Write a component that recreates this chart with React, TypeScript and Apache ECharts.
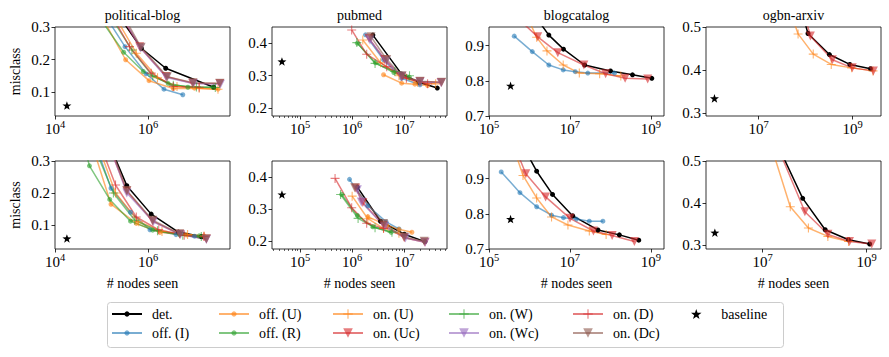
import React, { useEffect, useRef } from 'react';
import * as echarts from 'echarts';

const FONT = 'Liberation Serif';

// ---------- labels ----------
const panelTitles = ['political-blog', 'pubmed', 'blogcatalog', 'ogbn-arxiv'];
const methodNames = ['det.', 'off. (I)', 'off. (U)', 'off. (R)', 'on. (U)', 'on. (Uc)', 'on. (W)', 'on. (Wc)', 'on. (D)', 'on. (Dc)'];
const baselineName = 'baseline';
const yAxisTitle = 'misclass';
const xAxisTitle = '# nodes seen';

// ---------- tick values ----------
const pbXTicks = [1e4, 1e6];
const pmXTicks = [1e5, 1e6, 1e7];
const bcXTicks = [1e5, 1e7, 1e9];
const ogXTicks = [1e7, 1e9];
const pmXMinorTicks = [
  3e4, 4e4, 5e4, 6e4, 7e4, 8e4, 9e4,
  2e5, 3e5, 4e5, 5e5, 6e5, 7e5, 8e5, 9e5,
  2e6, 3e6, 4e6, 5e6, 6e6, 7e6, 8e6, 9e6,
  2e7, 3e7, 4e7, 5e7, 6e7,
];
const pbYTicks = [0.1, 0.2, 0.3];
const pmYTicks = [0.2, 0.3, 0.4];
const bcYTicks = [0.7, 0.8, 0.9];
const ogYTicks = [0.3, 0.4, 0.5];

// ---------- axis limits (panels: top row pb, pm, bc, og; bottom row pb, pm, bc, og) ----------
const xMins = [9.98e3, 2.9e4, 9.98e4, 7.6e5, 9.98e3, 2.9e4, 9.98e4, 8.1e5];
const xMaxs = [5.8e7, 6.6e7, 2.1e9, 4.0e9, 5.8e7, 6.6e7, 2.1e9, 1.9e9];
const yMins = [0.028, 0.176, 0.6999, 0.293, 0.025, 0.176, 0.6999, 0.29];
const yMaxs = [0.3001, 0.45, 0.953, 0.5001, 0.3001, 0.449, 0.95, 0.5001];

// ---------- data: political-blog, top row ----------
const pbTopDet = [[2.2e5, 0.34], [7.2e5, 0.235], [2.4e6, 0.174], [2.6e7, 0.116]];
const pbTopOffI = [[1.26e5, 0.33], [3.2e5, 0.24], [9.1e5, 0.157], [2.2e6, 0.11], [5.6e6, 0.093]];
const pbTopOffU = [[1.12e5, 0.32], [3.3e5, 0.2], [1.05e6, 0.136], [3.5e6, 0.112], [1.0e7, 0.113], [3.2e7, 0.11]];
const pbTopOffR = [[8.9e4, 0.33], [3.0e5, 0.223], [7.9e5, 0.164], [2.7e6, 0.128], [7.2e6, 0.116], [2.5e7, 0.116]];
const pbTopOnU = [[2.0e5, 0.33], [5.6e5, 0.22], [1.6e6, 0.145], [4.2e6, 0.118], [1.26e7, 0.113], [3.2e7, 0.11]];
const pbTopOnUc = [[2.5e5, 0.34], [6.6e5, 0.24], [2.45e6, 0.149], [9.1e6, 0.128], [3.5e7, 0.127]];
const pbTopOnW = [[1.6e5, 0.33], [4.5e5, 0.23], [1.26e6, 0.15], [3.5e6, 0.122], [1.1e7, 0.117], [2.8e7, 0.115]];
const pbTopOnWc = [[2.6e5, 0.34], [6.9e5, 0.236], [2.5e6, 0.146], [9.5e6, 0.127], [3.6e7, 0.125]];
const pbTopOnD = [[1.6e5, 0.34], [4.0e5, 0.24], [1.17e6, 0.159], [3.5e6, 0.118], [1.26e7, 0.116]];
const pbTopOnDc = [[2.7e5, 0.345], [7.1e5, 0.238], [2.6e6, 0.148], [9.3e6, 0.13], [3.5e7, 0.128]];
const pbTopBase = [[1.8e4, 0.06]];

// ---------- data: pubmed, top row ----------
const pmTopDet = [[2.5e6, 0.425], [8.9e6, 0.305], [1.9e7, 0.28], [4.3e7, 0.262]];
const pmTopOffI = [[1.8e6, 0.426], [4.0e6, 0.349], [8.9e6, 0.292], [2.0e7, 0.272]];
const pmTopOffU = [[4.0e6, 0.303], [8.9e6, 0.277], [1.6e7, 0.274], [2.8e7, 0.27]];
const pmTopOffR = [[1.26e6, 0.4], [2.8e6, 0.34], [6.3e6, 0.31], [1.26e7, 0.295]];
const pmTopOnU = [[1.6e6, 0.41], [3.5e6, 0.34], [7.9e6, 0.3], [1.8e7, 0.28], [4.0e7, 0.275]];
const pmTopOnUc = [[2.1e6, 0.415], [4.2e6, 0.35], [8.9e6, 0.297], [2.0e7, 0.282], [5.1e7, 0.279]];
const pmTopOnW = [[1.23e6, 0.402], [2.75e6, 0.338], [6.6e6, 0.313], [1.26e7, 0.3]];
const pmTopOnWc = [[2.2e6, 0.41], [4.5e6, 0.345], [8.9e6, 0.298], [2.0e7, 0.281], [5.1e7, 0.278]];
const pmTopOnD = [[9.8e5, 0.441], [1.9e6, 0.366], [4.6e6, 0.328], [1.1e7, 0.292], [2.8e7, 0.275]];
const pmTopOnDc = [[2.3e6, 0.42], [4.6e6, 0.35], [9.1e6, 0.3], [2.0e7, 0.283], [5.2e7, 0.28]];
const pmTopBase = [[4.5e4, 0.344]];

// ---------- data: blogcatalog, top row ----------
const bcTopDet = [[1.26e6, 0.99], [3.0e6, 0.93], [6.9e6, 0.89], [2.3e7, 0.845], [1.0e8, 0.828], [3.5e8, 0.817], [1.05e9, 0.807]];
const bcTopOffI = [[4.2e5, 0.927], [1.17e6, 0.883], [3.0e6, 0.845], [6.8e6, 0.831], [1.35e7, 0.826], [2.75e7, 0.822], [1.26e8, 0.822]];
const bcTopOnU = [[8.9e5, 0.98], [1.5e6, 0.924], [2.7e6, 0.885], [6.8e6, 0.845], [1.7e7, 0.822], [5.4e7, 0.82], [1.8e8, 0.814]];
const bcTopOnUc = [[7.5e5, 0.96], [1.6e6, 0.925], [5.0e6, 0.88], [2.2e7, 0.845], [7.6e7, 0.82], [2.3e8, 0.807], [8.3e8, 0.805]];
const bcTopBase = [[3.4e5, 0.786]];

// ---------- data: ogbn-arxiv, top row ----------
const ogTopDet = [[5.0e7, 0.62], [1.12e8, 0.485], [3.2e8, 0.436], [8.7e8, 0.413], [2.4e9, 0.403]];
const ogTopOnU = [[4.0e7, 0.56], [6.9e7, 0.484], [1.45e8, 0.437], [3.5e8, 0.413], [9.5e8, 0.405], [2.7e9, 0.398]];
const ogTopOnUc = [[6.3e7, 0.6], [1.26e8, 0.479], [3.7e8, 0.424], [9.8e8, 0.405], [2.75e9, 0.398]];
const ogTopBase = [[1.15e6, 0.334]];

// ---------- data: political-blog, bottom row ----------
const pbBotDet = [[1.4e5, 0.36], [3.5e5, 0.223], [1.17e6, 0.134], [4.5e6, 0.078], [1.4e7, 0.064]];
const pbBotOffI = [[7.1e4, 0.36], [1.6e5, 0.215], [4.2e5, 0.14], [1.1e6, 0.085], [4.0e6, 0.07], [1.0e7, 0.065]];
const pbBotOffU = [[6.3e4, 0.35], [1.6e5, 0.165], [5.6e5, 0.105], [1.8e6, 0.077], [6.6e6, 0.069], [1.6e7, 0.066]];
const pbBotOffR = [[4.0e4, 0.36], [5.5e4, 0.285], [1.5e5, 0.18], [4.2e5, 0.112], [1.26e6, 0.084], [4.8e6, 0.07], [1.26e7, 0.066]];
const pbBotOnU = [[7.9e4, 0.36], [2.0e5, 0.2], [6.3e5, 0.11], [2.0e6, 0.08], [7.1e6, 0.07], [1.6e7, 0.066]];
const pbBotOnUc = [[1.26e5, 0.37], [3.5e5, 0.206], [1.26e6, 0.112], [4.8e6, 0.071], [1.8e7, 0.056]];
const pbBotOnW = [[6.3e4, 0.36], [1.8e5, 0.2], [5.2e5, 0.115], [1.6e6, 0.082], [5.6e6, 0.068], [1.4e7, 0.064]];
const pbBotOnWc = [[1.3e5, 0.37], [3.5e5, 0.2], [1.3e6, 0.11], [5.0e6, 0.07], [1.8e7, 0.055]];
const pbBotOnD = [[8.9e4, 0.36], [2.0e5, 0.225], [5.6e5, 0.125], [1.7e6, 0.085], [6.0e6, 0.068], [1.6e7, 0.064]];
const pbBotOnDc = [[1.35e5, 0.37], [3.5e5, 0.208], [1.26e6, 0.115], [4.8e6, 0.073], [1.8e7, 0.057]];
const pbBotBase = [[1.8e4, 0.058]];

// ---------- data: pubmed, bottom row ----------
const pmBotDet = [[1.26e6, 0.368], [3.5e6, 0.262], [1.0e7, 0.222], [2.5e7, 0.199]];
const pmBotOffI = [[8.9e5, 0.392], [2.0e6, 0.31], [4.5e6, 0.26], [7.9e6, 0.238]];
const pmBotOffU = [[2.0e6, 0.276], [4.6e6, 0.25], [7.9e6, 0.237], [1.4e7, 0.228]];
const pmBotOffR = [[6.3e5, 0.345], [1.26e6, 0.28], [2.5e6, 0.245], [5.6e6, 0.228]];
const pmBotOnU = [[1.0e6, 0.34], [2.0e6, 0.27], [4.0e6, 0.24], [7.9e6, 0.225]];
const pmBotOnUc = [[1.17e6, 0.365], [1.6e6, 0.32], [4.0e6, 0.25], [1.0e7, 0.211], [2.5e7, 0.197]];
const pmBotOnW = [[6.0e5, 0.345], [1.3e6, 0.271], [2.75e6, 0.242], [5.8e6, 0.228]];
const pmBotOnWc = [[1.26e6, 0.36], [1.5e6, 0.322], [4.2e6, 0.245], [1.05e7, 0.21], [2.5e7, 0.197]];
const pmBotOnD = [[4.7e5, 0.395], [9.8e5, 0.304], [1.9e6, 0.256], [4.0e6, 0.24]];
const pmBotOnDc = [[1.12e6, 0.366], [4.0e6, 0.255], [1.0e7, 0.213], [2.4e7, 0.2]];
const pmBotBase = [[4.5e4, 0.345]];

// ---------- data: blogcatalog, bottom row ----------
const bcBotDet = [[7.1e5, 0.99], [1.5e6, 0.921], [3.7e6, 0.855], [1.17e7, 0.794], [4.9e7, 0.754], [1.66e8, 0.74], [5.0e8, 0.725]];
const bcBotOffI = [[2.0e5, 0.919], [5.8e5, 0.86], [1.5e6, 0.82], [3.5e6, 0.796], [6.9e6, 0.789], [1.45e7, 0.785], [3.0e7, 0.779], [6.5e7, 0.779]];
const bcBotOnU = [[4.0e5, 0.99], [6.9e5, 0.909], [1.5e6, 0.845], [3.5e6, 0.791], [8.9e6, 0.768], [3.0e7, 0.751], [7.8e7, 0.741]];
const bcBotOnUc = [[4.0e5, 1.0], [8.1e5, 0.914], [2.5e6, 0.848], [1.0e7, 0.787], [3.8e7, 0.751], [1.1e8, 0.738], [3.9e8, 0.721]];
const bcBotBase = [[3.4e5, 0.785]];

// ---------- data: ogbn-arxiv, bottom row ----------
const ogBotDet = [[1.6e7, 0.7], [2.6e7, 0.505], [5.9e7, 0.411], [1.6e8, 0.336], [4.5e8, 0.312], [1.15e9, 0.302]];
const ogBotOnU = [[1.0e7, 0.7], [1.6e7, 0.52], [3.4e7, 0.391], [7.6e7, 0.34], [1.8e8, 0.32], [4.5e8, 0.308]];
const ogBotOnUc = [[1.3e7, 0.7], [2.0e7, 0.53], [6.5e7, 0.379], [1.8e8, 0.325], [4.7e8, 0.308], [1.26e9, 0.302]];
const ogBotBase = [[1.2e6, 0.329]];

type Pts = number[][];

const panelSeries: Record<string, Pts>[] = [
  { 'det.': pbTopDet, 'off. (I)': pbTopOffI, 'off. (U)': pbTopOffU, 'off. (R)': pbTopOffR, 'on. (U)': pbTopOnU, 'on. (Uc)': pbTopOnUc, 'on. (W)': pbTopOnW, 'on. (Wc)': pbTopOnWc, 'on. (D)': pbTopOnD, 'on. (Dc)': pbTopOnDc },
  { 'det.': pmTopDet, 'off. (I)': pmTopOffI, 'off. (U)': pmTopOffU, 'off. (R)': pmTopOffR, 'on. (U)': pmTopOnU, 'on. (Uc)': pmTopOnUc, 'on. (W)': pmTopOnW, 'on. (Wc)': pmTopOnWc, 'on. (D)': pmTopOnD, 'on. (Dc)': pmTopOnDc },
  { 'det.': bcTopDet, 'off. (I)': bcTopOffI, 'on. (U)': bcTopOnU, 'on. (Uc)': bcTopOnUc },
  { 'det.': ogTopDet, 'on. (U)': ogTopOnU, 'on. (Uc)': ogTopOnUc },
  { 'det.': pbBotDet, 'off. (I)': pbBotOffI, 'off. (U)': pbBotOffU, 'off. (R)': pbBotOffR, 'on. (U)': pbBotOnU, 'on. (Uc)': pbBotOnUc, 'on. (W)': pbBotOnW, 'on. (Wc)': pbBotOnWc, 'on. (D)': pbBotOnD, 'on. (Dc)': pbBotOnDc },
  { 'det.': pmBotDet, 'off. (I)': pmBotOffI, 'off. (U)': pmBotOffU, 'off. (R)': pmBotOffR, 'on. (U)': pmBotOnU, 'on. (Uc)': pmBotOnUc, 'on. (W)': pmBotOnW, 'on. (Wc)': pmBotOnWc, 'on. (D)': pmBotOnD, 'on. (Dc)': pmBotOnDc },
  { 'det.': bcBotDet, 'off. (I)': bcBotOffI, 'on. (U)': bcBotOnU, 'on. (Uc)': bcBotOnUc },
  { 'det.': ogBotDet, 'on. (U)': ogBotOnU, 'on. (Uc)': ogBotOnUc },
];
const panelBaselines: Pts[] = [pbTopBase, pmTopBase, bcTopBase, ogTopBase, pbBotBase, pmBotBase, bcBotBase, ogBotBase];
const panelXTicks = [pbXTicks, pmXTicks, bcXTicks, ogXTicks, pbXTicks, pmXTicks, bcXTicks, ogXTicks];
const panelYTicks = [pbYTicks, pmYTicks, bcYTicks, ogYTicks, pbYTicks, pmYTicks, bcYTicks, ogYTicks];

// ---------- styles ----------
const PLUS = 'path://M-0.6,-5L0.6,-5L0.6,-0.6L5,-0.6L5,0.6L0.6,0.6L0.6,5L-0.6,5L-0.6,0.6L-5,0.6L-5,-0.6L-0.6,-0.6Z';
const STAR = 'path://M0,-10L2.35,-3.24L9.51,-3.09L3.8,1.24L5.88,8.09L0,4L-5.88,8.09L-3.8,1.24L-9.51,-3.09L-2.35,-3.24Z';

const methodStyle: Record<string, { color: string; symbol: string; size: number; rotate: number; alpha: number }> = {
  'det.': { color: '#000000', symbol: 'circle', size: 5, rotate: 0, alpha: 1 },
  'off. (I)': { color: '#1f77b4', symbol: 'circle', size: 5, rotate: 0, alpha: 0.6 },
  'off. (U)': { color: '#ff7f0e', symbol: 'circle', size: 5, rotate: 0, alpha: 0.6 },
  'off. (R)': { color: '#2ca02c', symbol: 'circle', size: 5, rotate: 0, alpha: 0.6 },
  'on. (U)': { color: '#ff7f0e', symbol: PLUS, size: 9, rotate: 0, alpha: 0.6 },
  'on. (Uc)': { color: '#d62728', symbol: 'triangle', size: 9, rotate: 180, alpha: 0.6 },
  'on. (W)': { color: '#2ca02c', symbol: PLUS, size: 9, rotate: 0, alpha: 0.6 },
  'on. (Wc)': { color: '#9467bd', symbol: 'triangle', size: 9, rotate: 180, alpha: 0.6 },
  'on. (D)': { color: '#d62728', symbol: PLUS, size: 9, rotate: 0, alpha: 0.6 },
  'on. (Dc)': { color: '#8c564b', symbol: 'triangle', size: 9, rotate: 180, alpha: 0.6 },
};

const gridLefts = [55, 272, 489, 706];
const gridWidth = 175;
const gridTops = [27, 161];
const gridHeights = [89, 88];

const legendColumns = [
  ['det.', 'off. (I)'],
  ['off. (U)', 'off. (R)'],
  ['on. (U)', 'on. (Uc)'],
  ['on. (W)', 'on. (Wc)'],
  ['on. (D)', 'on. (Dc)'],
  ['baseline'],
];
const legendLefts = [111, 218, 332, 448, 572, 691];
const legendItemHeights = [6.5, 6.5, 12, 12, 12, 10];

function buildOption() {
  const grids: any[] = [];
  const xAxes: any[] = [];
  const yAxes: any[] = [];
  const series: any[] = [];
  const titles: any[] = [];

  const serifRich = (size: number) => ({ fontFamily: FONT, fontSize: size, color: '#000', fontWeight: 'normal' });

  const logRich = {
    b: { fontFamily: FONT, fontSize: 15, color: '#000', lineHeight: 20 },
    s: { fontFamily: FONT, fontSize: 10.5, color: '#000', lineHeight: 10, verticalAlign: 'top' },
  };

  for (let i = 0; i < 8; i++) {
    const row = i < 4 ? 0 : 1;
    const col = i % 4;
    grids.push({
      left: gridLefts[col], top: gridTops[row], width: gridWidth, height: gridHeights[row],
      show: true, borderColor: '#000', borderWidth: 0.8, backgroundColor: 'transparent',
      containLabel: false,
    });
    xAxes.push({
      type: 'log', logBase: 10, gridIndex: i, min: xMins[i], max: xMaxs[i], position: 'bottom',
      axisLine: { show: false },
      splitLine: { show: false },
      minorTick: { show: false },
      axisTick: { show: true, inside: false, length: 3.5, lineStyle: { color: '#000', width: 0.8 }, customValues: panelXTicks[i] },
      axisLabel: {
        show: true, margin: 3, customValues: panelXTicks[i],
        formatter: (v: number) => `{b|10}{s|${Math.round(Math.log10(v))}}`,
        rich: logRich,
      },
      name: row === 1 ? `{n|${xAxisTitle}}` : '',
      nameLocation: 'middle', nameGap: 27,
      nameTextStyle: { fontFamily: FONT, fontSize: 14, color: '#000', rich: { n: serifRich(14) } },
    });
    yAxes.push({
      type: 'value', gridIndex: i, min: yMins[i], max: yMaxs[i],
      axisLine: { show: false },
      splitLine: { show: false },
      axisTick: { show: true, inside: false, length: 3.5, lineStyle: { color: '#000', width: 0.8 }, customValues: panelYTicks[i] },
      axisLabel: {
        show: true, margin: 5, customValues: panelYTicks[i],
        formatter: (v: number) => v.toFixed(1),
        fontFamily: FONT, fontSize: 15, color: '#000',
      },
      name: col === 0 ? yAxisTitle : '',
      nameLocation: 'middle', nameGap: 33, nameRotate: 90,
      nameTextStyle: { fontFamily: FONT, fontSize: 14, color: '#000' },
    });

    const pd = panelSeries[i];
    methodNames.forEach((name) => {
      const pts = pd[name];
      if (!pts) return;
      const st = methodStyle[name];
      series.push({
        type: 'line', name, xAxisIndex: i, yAxisIndex: i, data: pts,
        symbol: st.symbol, symbolSize: st.size, symbolRotate: st.rotate, symbolKeepAspect: true,
        showSymbol: true, showAllSymbol: true, clip: true, silent: true,
        lineStyle: { color: st.color, width: 1.5, opacity: st.alpha },
        itemStyle: { color: st.color, opacity: st.alpha, borderWidth: 0 },
        emphasis: { disabled: true },
      });
    });
    series.push({
      type: 'scatter', name: baselineName, xAxisIndex: i, yAxisIndex: i, data: panelBaselines[i],
      symbol: STAR, symbolSize: 9, symbolKeepAspect: true, silent: true,
      itemStyle: { color: '#000', opacity: 1 },
      emphasis: { disabled: true },
    });
  }

  // minor ticks on the pubmed panels
  [1, 5].forEach((gi) => {
    xAxes.push({
      type: 'log', logBase: 10, gridIndex: gi, min: xMins[gi], max: xMaxs[gi], position: 'bottom',
      axisLine: { show: false }, splitLine: { show: false }, minorTick: { show: false },
      axisTick: { show: true, inside: false, length: 2, lineStyle: { color: '#000', width: 0.6 }, customValues: pmXMinorTicks },
      axisLabel: { show: false },
    });
  });

  for (let c = 0; c < 4; c++) {
    titles.push({
      text: `{t|${panelTitles[c]}}`, left: gridLefts[c] + gridWidth / 2, top: 8, textAlign: 'center', padding: 0,
      textStyle: { fontFamily: FONT, fontSize: 14, fontWeight: 'normal', color: '#000', rich: { t: serifRich(14) } },
    });
  }

  const legends = legendColumns.map((d, k) => ({
    data: d, orient: 'vertical', left: legendLefts[k], top: 307, padding: 0,
    itemWidth: 30, itemHeight: legendItemHeights[k], itemGap: 5, selectedMode: false,
    formatter: (name: string) => `{a|${name}}`,
    textStyle: { fontFamily: FONT, fontSize: 14, color: '#000', padding: [0, 0, 0, 5], rich: { a: serifRich(14) } },
    z: 5,
  }));

  return {
    animation: false,
    backgroundColor: '#fff',
    textStyle: { fontFamily: FONT },
    title: titles,
    grid: grids,
    xAxis: xAxes,
    yAxis: yAxes,
    series,
    legend: legends,
    graphic: [{
      type: 'rect', z: 1, silent: true,
      shape: { x: 107.5, y: 302.5, width: 676, height: 45, r: 3 },
      style: { fill: '#fff', stroke: '#cccccc', lineWidth: 1 },
    }],
  };
}

export default function App() {
  const ref = useRef<HTMLDivElement>(null);
  useEffect(() => {
    document.body.style.margin = '0';
    const chart = echarts.init(ref.current!, null, { renderer: 'svg' });
    chart.setOption(buildOption() as any);
    return () => chart.dispose();
  }, []);
  return <div ref={ref} style={{ width: 889, height: 357 }} />;
}
